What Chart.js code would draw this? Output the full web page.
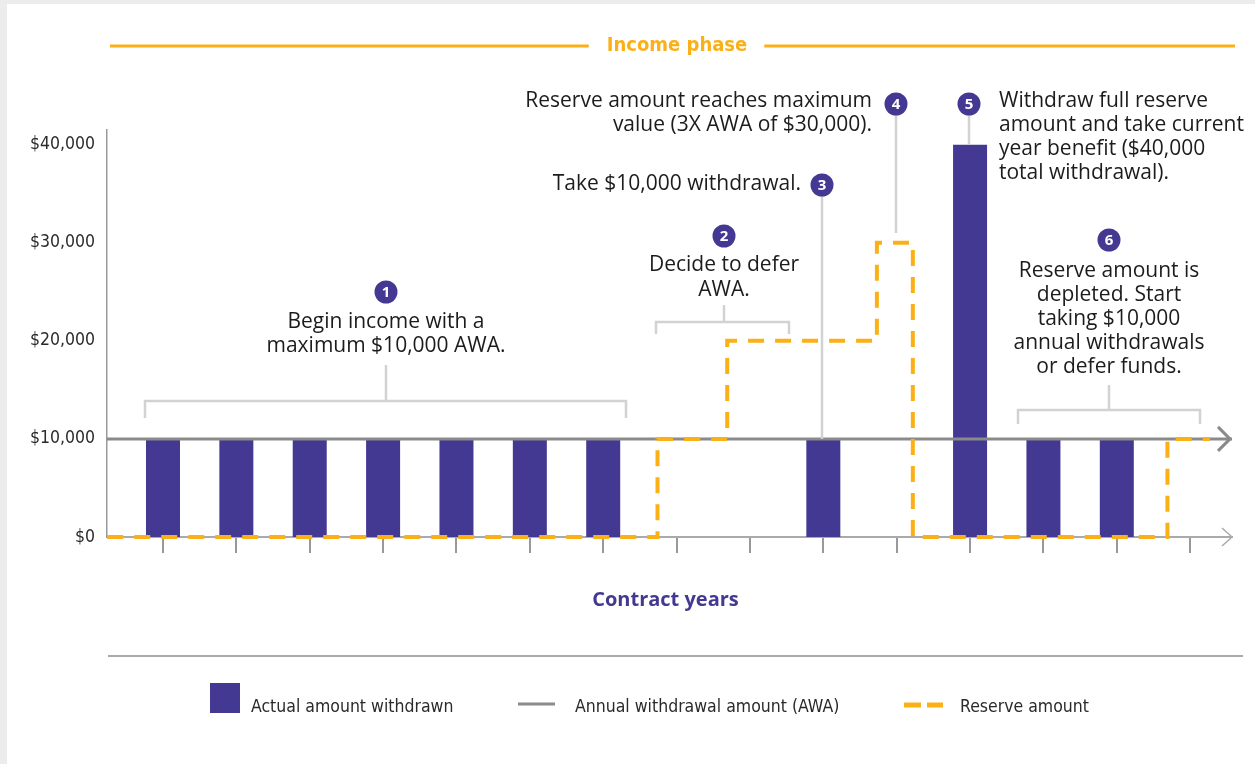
<!DOCTYPE html>
<html lang="en">
<head>
<meta charset="UTF-8">
<title>Income phase</title>
<script src="https://cdn.jsdelivr.net/npm/chart.js"></script>
<style>
    html, body { margin: 0; padding: 0; background: #ececec; overflow: hidden; }
    .panel { position: absolute; left: 7px; top: 4px; right: 0; bottom: 0; background: #fff; }
    #chart { position: absolute; left: 0; top: 0; }
</style>
</head>
<body>
<div class="panel"></div>
<canvas id="chart" width="1255" height="764"></canvas>
<script>
    // contract years and the amount actually withdrawn each year
    const years = [1, 2, 3, 4, 5, 6, 7, 8, 9, 10, 11, 12, 13, 14, 15];
    const withdrawn = [10000, 10000, 10000, 10000, 10000, 10000, 10000, 0, 0, 10000, 0, 40000, 10000, 10000, 0];
    // annual withdrawal amount
    const awa = 10000;
    // reserve amount, steps (year where each level starts)
    const reserveYears = [0.24, 7.74, 8.69, 10.73, 11.22, 14.69, 15.27];
    const reserveValues = [0, 10000, 20000, 30000, 0, 10000, 10000];
    const yTicks = [0, 10000, 20000, 30000, 40000];

    const X_MIN = 0.237, X_MAX = 15.57, Y_MAX = 41500;

    const PURPLE = '#433892';
    const ORANGE = '#fbb017';
    const AWA_GRAY = '#8a8a8a';
    const LIGHT = '#d2d2d2';
    const NARROW = "'Liberation Sans Narrow', 'DejaVu Sans Condensed', sans-serif";
    const SANS = "'Open Sans', 'Noto Sans', sans-serif";

    const notes = [
        { n: 1, cx: 386, cy: 292, tx: 386, ty: 322, gap: 24.5, align: 'center',
          lines: ['Begin income with a', 'maximum $10,000 AWA.'],
          bracket: { x1: 145, x2: 626, y: 401, top: 365, drop: 17 } },
        { n: 2, cx: 724, cy: 236, tx: 724, ty: 265, gap: 25.5, align: 'center',
          lines: ['Decide to defer', 'AWA.'],
          bracket: { x1: 656, x2: 789, y: 322, top: 305, drop: 12 } },
        { n: 3, cx: 822, cy: 185, tx: 801, ty: 184, gap: 24, align: 'right',
          lines: ['Take $10,000 withdrawal.'], leaderTo: withdrawn[9] },
        { n: 4, cx: 896, cy: 104, tx: 872, ty: 101, gap: 24, align: 'right',
          lines: ['Reserve amount reaches maximum', 'value (3X AWA of $30,000).'], leaderTo: 31000 },
        { n: 5, cx: 969, cy: 104, tx: 999, ty: 101, gap: 24, align: 'left',
          lines: ['Withdraw full reserve', 'amount and take current', 'year benefit ($40,000', 'total withdrawal).'],
          leaderTo: withdrawn[11] },
        { n: 6, cx: 1109, cy: 240, tx: 1109, ty: 271, gap: 24, align: 'center',
          lines: ['Reserve amount is', 'depleted. Start', 'taking $10,000', 'annual withdrawals', 'or defer funds.'],
          bracket: { x1: 1018, x2: 1200, y: 410, top: 385, drop: 14 } }
    ];

    function line(ctx, pts, color, width, dash) {
        ctx.save();
        ctx.strokeStyle = color;
        ctx.lineWidth = width;
        ctx.setLineDash(dash || []);
        ctx.beginPath();
        pts.forEach(([x, y], i) => i ? ctx.lineTo(x, y) : ctx.moveTo(x, y));
        ctx.stroke();
        ctx.restore();
    }

    function text(ctx, str, x, y, font, color, align) {
        ctx.save();
        ctx.font = font;
        ctx.fillStyle = color;
        ctx.textAlign = align || 'left';
        ctx.textBaseline = 'middle';
        ctx.fillText(str, x, y);
        ctx.restore();
    }

    const decorations = {
        id: 'decorations',
        afterDraw(chart) {
            const ctx = chart.ctx;
            const ys = chart.scales.y;
            const area = chart.chartArea;

            // header
            const headFont = `bold 20px ${NARROW}`;
            ctx.save();
            ctx.font = headFont;
            const hw = ctx.measureText('Income phase').width;
            ctx.restore();
            const hx = 677;
            line(ctx, [[110, 46], [hx - hw / 2 - 18, 46]], ORANGE, 3);
            line(ctx, [[hx + hw / 2 + 17, 46], [1235, 46]], ORANGE, 3);
            text(ctx, 'Income phase', hx, 46, headFont, ORANGE, 'center');

            // arrow heads
            const ay = ys.getPixelForValue(awa);
            line(ctx, [[area.right - 14, ay - 12], [area.right - 2, ay], [area.right - 14, ay + 12]], AWA_GRAY, 3);
            line(ctx, [[area.right - 10, area.bottom - 9], [area.right, area.bottom], [area.right - 10, area.bottom + 9]], '#aaaaaa', 1.5);

            // annotations
            notes.forEach(note => {
                if (note.bracket) {
                    const b = note.bracket;
                    line(ctx, [[b.x1, b.y + b.drop], [b.x1, b.y], [b.x2, b.y], [b.x2, b.y + b.drop]], LIGHT, 2.5);
                    line(ctx, [[note.cx, b.top], [note.cx, b.y]], LIGHT, 2.5);
                }
                if (note.leaderTo !== undefined) {
                    line(ctx, [[note.cx, note.cy + 10], [note.cx, ys.getPixelForValue(note.leaderTo)]], LIGHT, 2.5);
                }
                ctx.save();
                ctx.fillStyle = PURPLE;
                ctx.beginPath();
                ctx.arc(note.cx, note.cy, 11.5, 0, Math.PI * 2);
                ctx.fill();
                ctx.restore();
                text(ctx, String(note.n), note.cx, note.cy + 1, `bold 15px ${SANS}`, '#fff', 'center');
                note.lines.forEach((s, i) => {
                    text(ctx, s, note.tx, note.ty + i * note.gap, `21px ${SANS}`, '#1c1c1c', note.align);
                });
            });

            // axis title
            text(ctx, 'Contract years', (area.left + area.right) / 2 - 4, 600, `bold 20px ${SANS}`, PURPLE, 'center');

            // separator
            line(ctx, [[108, 656], [1243, 656]], '#aaaaaa', 2);

            // legend
            const ds = chart.data.datasets;
            const legFont = `17.5px ${NARROW}`;
            ctx.fillStyle = ds[2].backgroundColor;
            ctx.fillRect(210, 683, 30, 30);
            text(ctx, ds[2].label, 251, 707, legFont, '#2a2a2a');
            line(ctx, [[518, 704], [555, 704]], ds[1].borderColor, 3);
            text(ctx, ds[1].label, 575, 707, legFont, '#2a2a2a');
            line(ctx, [[904, 705], [921, 705]], ds[0].borderColor, 5);
            line(ctx, [[927, 705], [943, 705]], ds[0].borderColor, 5);
            text(ctx, ds[0].label, 960, 707, legFont, '#2a2a2a');
        }
    };

    const chart = new Chart(document.getElementById('chart'), {
        type: 'bar',
        data: {
            datasets: [
                {
                    type: 'line',
                    label: 'Reserve amount',
                    data: reserveYears.map((x, i) => ({ x, y: reserveValues[i] })),
                    stepped: 'before',
                    borderColor: ORANGE,
                    borderWidth: 4,
                    borderDash: [16, 11],
                    borderJoinStyle: 'miter',
                    pointRadius: 0,
                    clip: false,
                    order: 0
                },
                {
                    type: 'line',
                    label: 'Annual withdrawal amount (AWA)',
                    data: [{ x: X_MIN, y: awa }, { x: X_MAX, y: awa }],
                    borderColor: AWA_GRAY,
                    borderWidth: 3,
                    pointRadius: 0,
                    order: 1
                },
                {
                    label: 'Actual amount withdrawn',
                    data: years.map((x, i) => ({ x, y: withdrawn[i] })),
                    backgroundColor: PURPLE,
                    barThickness: 34,
                    inflateAmount: 0,
                    order: 2
                }
            ]
        },
        options: {
            responsive: false,
            animation: false,
            layout: { padding: { top: 130, right: 23, left: 0, bottom: 0 } },
            plugins: {
                legend: { display: false },
                tooltip: { enabled: false }
            },
            scales: {
                x: {
                    type: 'linear',
                    min: X_MIN,
                    max: X_MAX,
                    offset: false,
                    afterBuildTicks: scale => { scale.ticks = years.map(v => ({ value: v })); },
                    afterFit: scale => { scale.height = 227; },
                    ticks: { display: false },
                    grid: { offset: false, drawOnChartArea: false, drawTicks: true, tickLength: 16, color: '#999999', lineWidth: 2 },
                    border: { display: true, color: '#aaaaaa', width: 2 }
                },
                y: {
                    min: 0,
                    max: Y_MAX,
                    afterBuildTicks: scale => { scale.ticks = yTicks.map(v => ({ value: v })); },
                    afterFit: scale => { scale.width = 107; },
                    ticks: {
                        padding: 12,
                        color: '#2a2a2a',
                        font: { family: NARROW, size: 17.5 },
                        callback: v => '$' + v.toLocaleString('en-US')
                    },
                    grid: { display: false, drawTicks: false },
                    border: { display: true, color: '#999999', width: 1.5 }
                }
            }
        },
        plugins: [decorations]
    });
</script>
</body>
</html>
